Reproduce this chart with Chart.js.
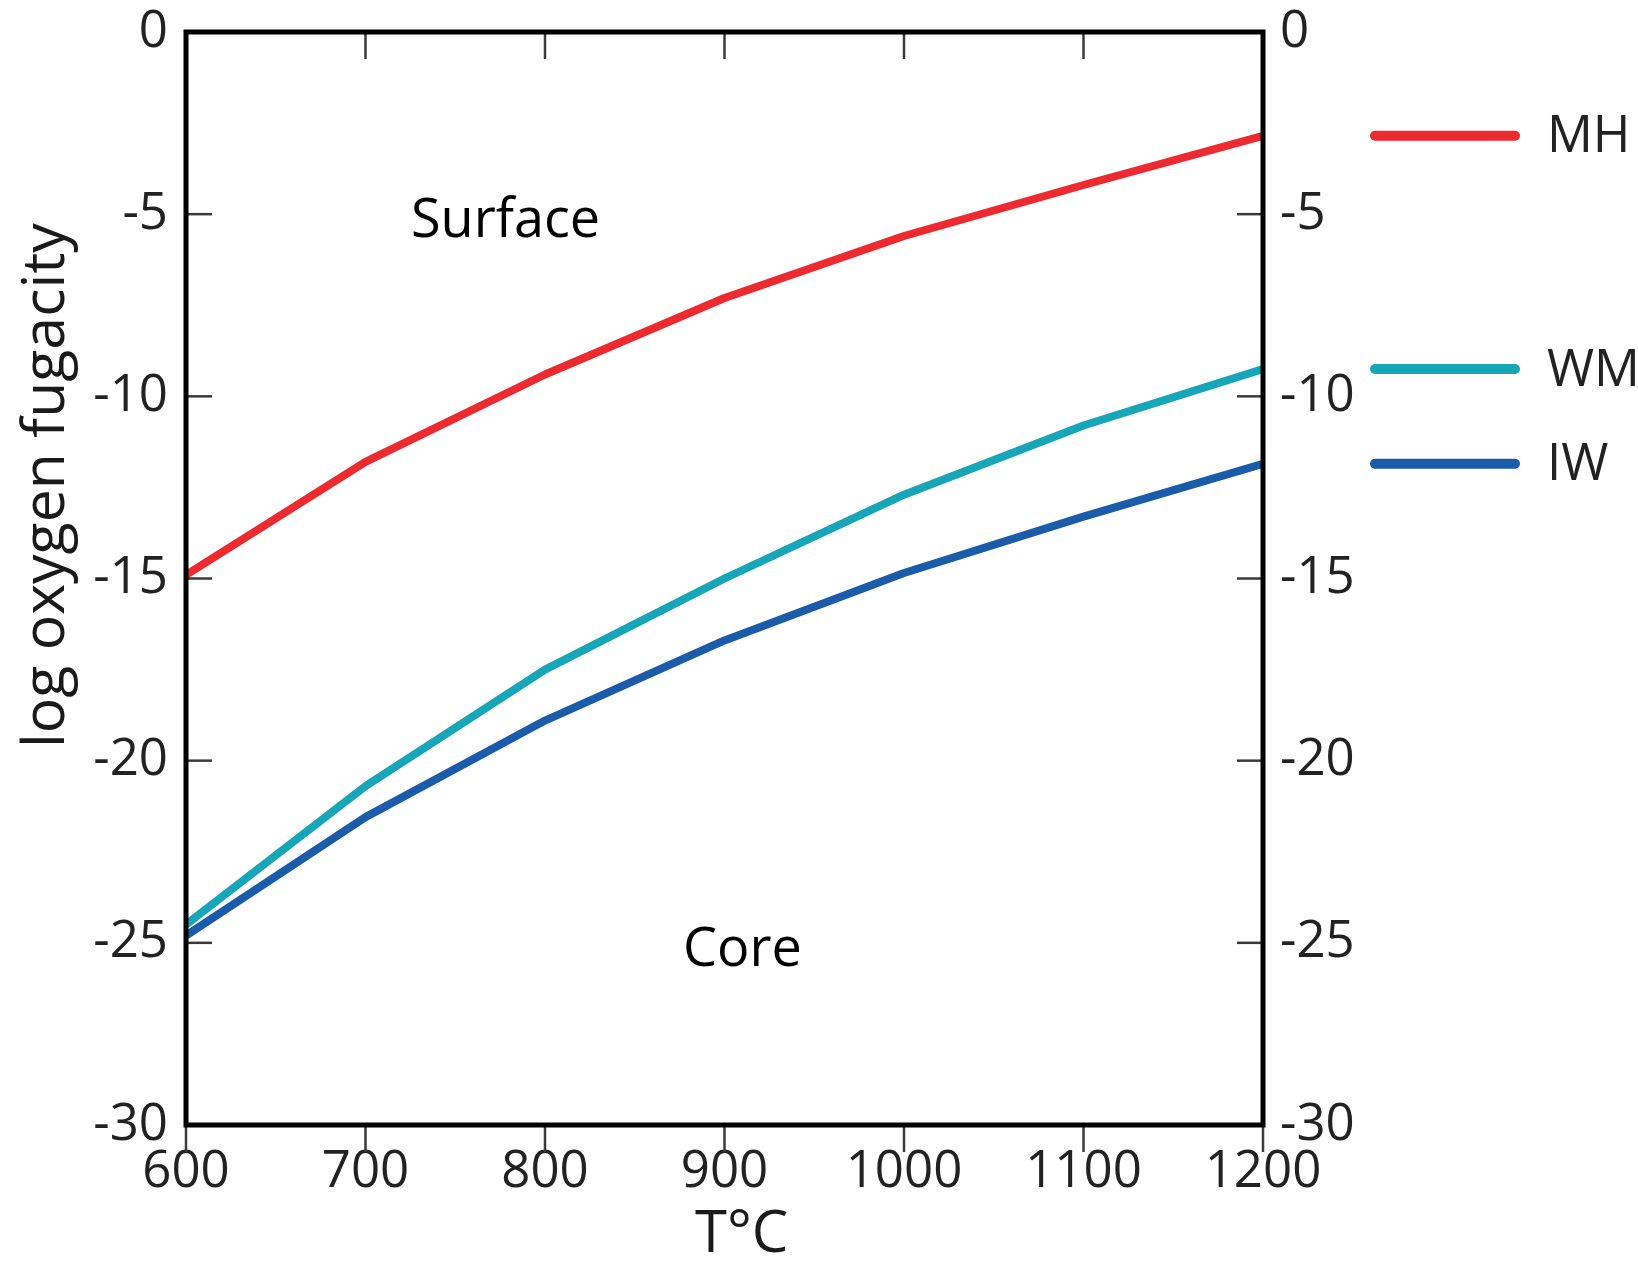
<!DOCTYPE html>
<html>
<head>
<meta charset="utf-8">
<script src="https://cdn.jsdelivr.net/npm/chart.js@4.4.1/dist/chart.umd.min.js"></script>
<style>
  body { margin: 0; background: #fff; }
  #chart { display: block; }
</style>
</head>
<body>
<canvas id="chart" width="1638" height="1265"></canvas>
<script>
// Temperatures (°C) and log oxygen fugacity of each buffer
const temps = [600, 700, 800, 900, 1000, 1100, 1200];
const mhValues = [-14.9, -11.8, -9.4, -7.3, -5.6, -4.2, -2.85];
const wmValues = [-24.5, -20.7, -17.5, -15.0, -12.7, -10.8, -9.25];
const iwValues = [-24.8, -21.55, -18.9, -16.7, -14.85, -13.3, -11.85];
const seriesNames = ['MH', 'WM', 'IW'];
const yTicks = [0, -5, -10, -15, -20, -25, -30];

// Region labels placed in data units
const noteTexts = ['Surface', 'Core'];
const noteTemps = [778, 910];
const noteValues = [-5.2, -25.2];

const FONT = "'Open Sans', 'DejaVu Sans', sans-serif";

const colors = {
    mh: '#ED2A30',
    wm: '#17A5B8',
    iw: '#1A5BAA'
};

const toPoints = (values) => values.map((v, i) => ({ x: temps[i], y: v }));

const makeDataset = (label, values, color) => ({
    label: label,
    data: toPoints(values),
    borderColor: color,
    backgroundColor: color,
    borderWidth: 8,
    pointRadius: 0,
    tension: 0,
    borderJoinStyle: 'round',
    yAxisID: 'y'
});

// Frame, inward/outward tick marks, titles, notes and end-of-line legend
const framePlugin = {
    id: 'frame',
    afterDatasetsDraw(chart) {
        const { ctx, chartArea: a, scales } = chart;
        const line = (x1, y1, x2, y2) => {
            ctx.beginPath();
            ctx.moveTo(x1, y1);
            ctx.lineTo(x2, y2);
            ctx.stroke();
        };

        ctx.save();
        ctx.strokeStyle = '#3a3a3a';
        ctx.lineWidth = 2.5;
        temps.forEach(t => {
            const px = scales.x.getPixelForValue(t);
            line(px, a.top, px, a.top + 27);
            line(px, a.bottom, px, a.bottom + 27);
        });
        yTicks.forEach(v => {
            const py = scales.y.getPixelForValue(v);
            line(a.left, py, a.left + 26, py);
            line(a.right - 26, py, a.right, py);
        });

        ctx.strokeStyle = '#000';
        ctx.lineWidth = 5;
        ctx.lineJoin = 'miter';
        ctx.strokeRect(a.left, a.top, a.right - a.left, a.bottom - a.top);

        // axis titles
        ctx.fillStyle = '#1a1a1a';
        ctx.textAlign = 'center';
        ctx.textBaseline = 'middle';
        ctx.font = '58px ' + FONT;
        ctx.fillText('T°C', a.left + (a.right - a.left) * 0.516, 1235);

        ctx.save();
        ctx.translate(47, a.top + (a.bottom - a.top) * 0.415);
        ctx.rotate(-Math.PI / 2);
        ctx.font = '59px ' + FONT;
        ctx.fillText('log oxygen fugacity', 0, 0);
        ctx.restore();

        // region notes
        ctx.font = '54px ' + FONT;
        ctx.fillStyle = '#000';
        noteTexts.forEach((txt, i) => {
            ctx.fillText(txt, scales.x.getPixelForValue(noteTemps[i]), scales.y.getPixelForValue(noteValues[i]));
        });

        // legend: each entry sits at the height where its line ends
        ctx.lineCap = 'round';
        ctx.lineWidth = 10;
        ctx.textAlign = 'left';
        ctx.font = '51px ' + FONT;
        chart.data.datasets.forEach(ds => {
            const last = ds.data[ds.data.length - 1].y;
            const py = scales.y.getPixelForValue(last);
            ctx.strokeStyle = ds.borderColor;
            line(a.right + 112, py, a.right + 252, py);
            ctx.fillStyle = '#222';
            ctx.fillText(ds.label, a.right + 284, py + 2);
        });
        ctx.restore();
    }
};

const tickFont = { family: FONT, size: 51, lineHeight: 1 };

// fixed box sizes, and no extra room reserved for the end labels
const fixWidth = (w) => (s) => { s.width = w; s.paddingTop = 0; s.paddingBottom = 0; };

const ctx = document.getElementById('chart').getContext('2d');
new Chart(ctx, {
    type: 'line',
    data: {
        datasets: [
            makeDataset(seriesNames[0], mhValues, colors.mh),
            makeDataset(seriesNames[1], wmValues, colors.wm),
            makeDataset(seriesNames[2], iwValues, colors.iw)
        ]
    },
    options: {
        responsive: false,
        animation: false,
        devicePixelRatio: 1,
        layout: { padding: { top: 32, left: 0, right: 0, bottom: 0 } },
        plugins: {
            legend: { display: false },
            tooltip: { enabled: false }
        },
        scales: {
            x: {
                type: 'linear',
                position: 'bottom',
                min: 600,
                max: 1200,
                grid: { display: false, drawTicks: false },
                border: { display: false },
                ticks: {
                    stepSize: 100,
                    color: '#222',
                    font: tickFont,
                    padding: 22,
                    maxRotation: 0,
                    callback: v => String(v)
                },
                afterFit: s => { s.height = 140; s.paddingLeft = 0; s.paddingRight = 0; }
            },
            y: {
                type: 'linear',
                position: 'left',
                min: -30,
                max: 0,
                grid: { display: false, drawTicks: false },
                border: { display: false },
                ticks: {
                    stepSize: 5,
                    color: '#222',
                    font: tickFont,
                    padding: 18,
                    callback: v => String(v)
                },
                afterFit: fixWidth(186)
            },
            y2: {
                type: 'linear',
                position: 'right',
                min: -30,
                max: 0,
                grid: { display: false, drawTicks: false },
                border: { display: false },
                ticks: {
                    stepSize: 5,
                    color: '#222',
                    font: tickFont,
                    padding: 17,
                    callback: v => String(v)
                },
                afterFit: fixWidth(375)
            }
        }
    },
    plugins: [framePlugin]
});
</script>
</body>
</html>
